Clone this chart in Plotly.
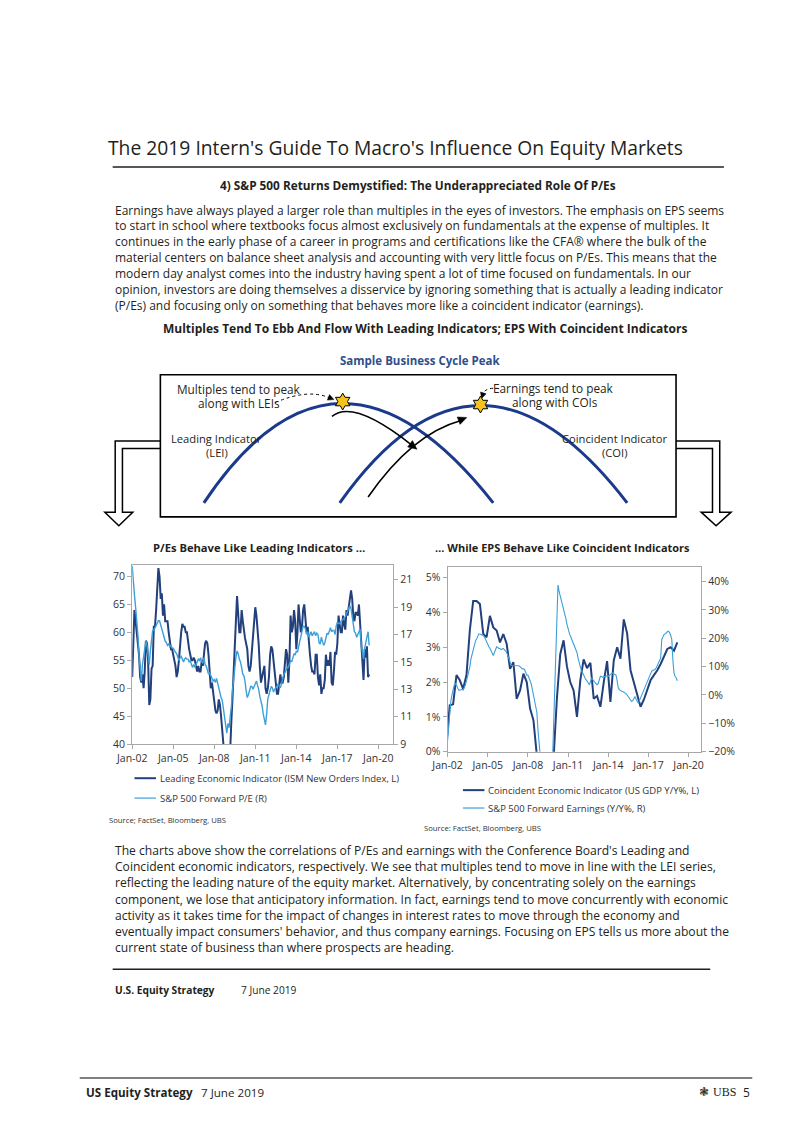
import math
import pandas as pd
import plotly.graph_objects as go

W, H = 802, 1133

# ---------------- DATA ----------------
# ISM New Orders (monthly, Jan-2002 .. May-2019), left chart, left axis
lei = [52, 60, 64, 62, 60, 58, 56, 52, 51, 52.5, 50, 53,
       58.5, 58, 55, 47, 48, 53.5, 54, 61, 61, 64, 69, 71.5,
       70, 66, 67, 63, 65, 62, 62, 62, 60, 58, 57, 57,
       56, 55, 54, 52, 53, 55, 58, 60, 61.5, 61, 61, 60,
       60, 58, 57, 56, 55, 55, 55.5, 55, 54, 53, 54, 53,
       53, 55, 54, 56, 58, 58.5, 58, 56, 52, 50, 51, 49,
       47, 46, 45.5, 46, 48, 47, 45, 43, 40, 34, 27, 23,
       30, 34, 40, 44, 48, 52, 56, 62, 66.5, 63, 60, 60,
       64, 62, 60, 59, 58, 57, 54, 53, 54, 57, 60, 62,
       64.5, 63, 61, 58, 54, 51, 52, 53, 54, 50, 49, 50,
       52, 56, 57.5, 57, 55, 53, 50, 49, 49, 51, 52.5, 51,
       51, 52, 54, 57, 56, 51, 55, 63, 60, 61, 64, 62,
       57, 60, 65, 62, 60, 61, 64, 65, 62, 60, 61, 58,
       56, 54, 53, 53, 52.5, 56, 56, 52, 50.5, 52.5, 49, 50,
       50, 51.5, 56, 54, 55, 54, 56.5, 51, 50.5, 53, 56.5, 56,
       58, 63, 61, 60, 60, 63, 61.5, 60.5, 64, 63, 64.5, 66,
       67.5, 66, 63, 62, 63.5, 63.5, 63, 65, 62, 59, 56, 51.5,
       57, 55.5, 57.5, 52, 52.5]

# S&P 500 forward P/E (monthly, Jan-2002 .. May-2019), left chart, right axis
pe = [22.0, 20.5, 19.9, 19.0, 18.2, 17.0, 15.5, 14.2, 13.6, 14.8, 15.5, 15.8,
      16.5, 16.2, 15.5, 14.8, 15.8, 16.6, 17.3, 17.3, 17.5, 17.7, 17.8, 18.0,
      18.0, 17.7, 17.4, 17.0, 16.7, 16.5, 16.4, 16.2, 16.3, 16.1, 16.2, 16.0,
      16.0, 15.8, 15.7, 15.6, 15.3, 15.1, 15.3, 15.4, 15.2, 15.0, 15.2, 15.3,
      15.2, 15.2, 15.0, 15.1, 14.8, 14.6, 14.8, 14.6, 14.8, 15.0, 15.2, 15.1,
      15.3, 15.0, 14.9, 15.3, 14.8, 14.7, 14.3, 14.1, 14.2, 14.0, 13.8, 13.6,
      13.7, 13.5, 13.8, 13.4, 13.0, 12.7, 12.4, 12.2, 11.5, 10.8, 10.2, 9.8,
      10.5, 10.2, 11.0, 11.7, 12.9, 13.8, 14.5, 15.3, 15.8, 15.6, 15.2, 15.0,
      14.6, 14.1, 14.0, 13.6, 12.9, 12.4, 12.6, 13.0, 13.2, 13.2, 13.0, 13.2,
      13.4, 13.6, 13.3, 13.0, 12.5, 12.2, 11.8, 11.2, 10.7, 10.4, 11.2, 12.3,
      12.6, 13.0, 13.2, 13.1, 12.8, 13.0, 13.1, 13.2, 13.4, 13.2, 13.1, 13.4,
      13.8, 14.1, 14.2, 14.4, 14.6, 14.6, 14.8, 15.1, 15.0, 15.3, 15.6, 15.5,
      15.8, 15.7, 16.2, 16.5, 16.8, 17.3, 17.6, 17.6, 17.4, 17.0, 17.2, 16.8,
      17.0, 17.2, 16.9, 17.1, 17.2, 16.9, 17.1, 17.0, 16.4, 16.3, 16.8, 16.5,
      16.2, 16.4, 16.8, 17.1, 17.0, 17.3, 17.5, 17.2, 17.3, 17.3, 17.0, 17.6,
      17.9, 17.8, 17.8, 17.9, 18.0, 18.1, 18.2, 18.3, 18.5, 18.7, 18.9, 19.1,
      18.9, 18.3, 17.6, 17.2, 17.1, 16.8, 17.0, 17.3, 17.4, 16.2, 15.6, 15.2,
      16.0, 16.6, 16.8, 17.2, 16.2]

# US real GDP Y/Y % (quarterly, Dec-2001 .. Mar-2019), right chart, left axis
gdp = [0.2, 1.33, 1.36, 2.2, 2.05, 1.8, 2.2, 3.5,
       4.33, 4.33, 4.24, 3.38, 3.29, 3.9, 3.57, 3.48,
       3.14, 3.38, 3.1, 2.38, 2.57, 1.52, 1.76, 2.24,
       2.0, 1.24, 0.9, -0.1, -2.8, -3.3, -3.9, -3.0,
       -0.2, 1.5, 2.8, 3.2, 2.45, 2.0, 1.76, 1.0,
       2.05, 2.65, 2.4, 2.55, 1.52, 1.6, 1.29, 2.0,
       2.6, 1.43, 2.62, 3.0, 2.67, 3.8, 3.4, 2.34,
       2.0, 1.6, 1.29, 1.5, 1.76, 2.05, 2.2, 2.34,
       2.52, 2.75, 2.95, 3.0, 2.9, 3.14]

# S&P 500 forward earnings Y/Y % (monthly, Jan-2002 .. Mar-2019), right chart, right axis
eps = [-16, -10, -5, -2, 0, 2, 3.5, 4, 3.5, 2.5, 1.7, 1.7,
       2, 2, 1.7, 2.5, 3.5, 5, 6.5, 8.1, 10, 12.7, 14.5, 16.5,
       18, 19, 19.7, 20.5, 21.5, 21.5, 21.3, 21, 21, 20.5, 19.5, 18.5,
       18, 17, 16.5, 15.7, 15, 13.9, 15, 16, 17, 16.8, 16.4, 16.4,
       16, 16.2, 16.4, 16, 15.5, 15, 14, 12.7, 11.5, 10.5, 10.4, 10.4,
       10.4, 10.3, 10.4, 10.5, 10.3, 10, 9.6, 9.2, 9.2, 9.0, 8.0, 7.0,
       7, 6.2, 5, 3.9, 2, 0, -2.5, -4, -6, -12, -20, -26,
       -30, -33, -35, -35, -34, -32, -30, -29, -28, -27, -24, -12,
       5, 20, 32, 38.8, 36.5, 35, 33, 32, 30.7, 29, 27, 25,
       23, 22, 21, 20, 19, 18, 17.5, 16.6, 15, 13, 11.3, 10,
       8.5, 7.8, 7, 6, 5.4, 5, 4.5, 3.6, 4.5, 6, 5.5, 4.8,
       4.5, 4, 3.6, 4, 5, 6.6, 6.5, 6.2, 6.6, 6.4, 6.6, 6.8,
       6.6, 6.8, 7.2, 7.5, 7.8, 7.5, 7.2, 7.0, 5, 2.5, 1.9, 1.5,
       1.3, 1.2, 1.0, 0.7, 0.5, 0, -0.5, -1.1, -1.8, -2.3, -2, -1,
       -0.5, -1.5, -2.5, -2.9, -2, -1, 0.1, 1, 1.8, 2.5, 3.5, 5,
       6, 7, 8, 8.4, 8.6, 8.8, 9, 9.5, 10.5, 11.3, 12, 13,
       19.6, 20.5, 21.3, 21.5, 22, 22.3, 22.5, 22, 21, 19.6, 12, 7.8,
       6.5, 6, 5.0]

lei_dates = pd.date_range("2002-01-01", periods=len(lei), freq="MS")
pe_dates = pd.date_range("2002-01-01", periods=len(pe), freq="MS")
gdp_dates = pd.date_range("2001-12-01", periods=len(gdp), freq="QS-DEC")
eps_dates = pd.date_range("2002-01-01", periods=len(eps), freq="MS")

left_title = "P/Es Behave Like Leading Indicators \u2026"
right_title = "\u2026 While EPS Behave Like Coincident Indicators"
left_names = ["Leading Economic Indicator (ISM New Orders Index, L)", "S&P 500 Forward P/E (R)"]
right_names = ["Coincident Economic Indicator (US GDP Y/Y%, L)", "S&P 500 Forward Earnings (Y/Y%, R)"]

DARK = "#22407c"
LIGHT = "#3c9fd8"
AXC = "#a8a8a8"
TXT = "#231f20"
FONT = "Open Sans"

para1 = [
    "Earnings have always played a larger role than multiples in the eyes of investors. The emphasis on EPS seems",
    "to start in school where textbooks focus almost exclusively on fundamentals at the expense of multiples. It",
    "continues in the early phase of a career in programs and certifications like the CFA\u00ae where the bulk of the",
    "material centers on balance sheet analysis and accounting with very little focus on P/Es. This means that the",
    "modern day analyst comes into the industry having spent a lot of time focused on fundamentals. In our",
    "opinion, investors are doing themselves a disservice by ignoring something that is actually a leading indicator",
    "(P/Es) and focusing only on something that behaves more like a coincident indicator (earnings).",
]
para2 = [
    "The charts above show the correlations of P/Es and earnings with the Conference Board's Leading and",
    "Coincident economic indicators, respectively. We see that multiples tend to move in line with the LEI series,",
    "reflecting the leading nature of the equity market. Alternatively, by concentrating solely on the earnings",
    "component, we lose that anticipatory information. In fact, earnings tend to move concurrently with economic",
    "activity as it takes time for the impact of changes in interest rates to move through the economy and",
    "eventually impact consumers' behavior, and thus company earnings. Focusing on EPS tells us more about the",
    "current state of business than where prospects are heading.",
]

fig = go.Figure()

# ---------------- charts ----------------
fig.add_trace(go.Scatter(x=lei_dates, y=lei, mode="lines", line=dict(color=DARK, width=2),
                         xaxis="x", yaxis="y", showlegend=False, name=left_names[0]))
fig.add_trace(go.Scatter(x=pe_dates, y=pe, mode="lines", line=dict(color=LIGHT, width=1.4),
                         xaxis="x", yaxis="y2", showlegend=False, name=left_names[1]))
fig.add_trace(go.Scatter(x=gdp_dates, y=gdp, mode="lines", line=dict(color=DARK, width=2),
                         xaxis="x2", yaxis="y3", showlegend=False, name=right_names[0]))
fig.add_trace(go.Scatter(x=eps_dates, y=eps, mode="lines", line=dict(color=LIGHT, width=1.1),
                         xaxis="x2", yaxis="y4", showlegend=False, name=right_names[1]))


def px(x):
    return x / W


def py(y):
    return 1 - y / H


axis_common = dict(showline=True, linecolor=AXC, linewidth=1, ticks="outside", ticklen=4,
                   tickcolor=AXC, showgrid=False, zeroline=False,
                   tickfont=dict(family=FONT, size=10.5, color="#333333"))

fig.update_layout(
    xaxis=dict(domain=[px(110.7), px(377.7)], anchor="y", type="date",
               range=["2002-01-01", "2021-02-01"], tick0="2002-01-01", dtick="M36",
               tickformat="%b-%y", mirror=True, **axis_common),
    yaxis=dict(domain=[py(740.7), py(560)], anchor="x", range=[40, 72.14], tick0=40, dtick=5,
               **axis_common),
    yaxis2=dict(overlaying="y", anchor="x", side="right", range=[9, 22.1], tick0=9, dtick=2,
                **axis_common),
    xaxis2=dict(domain=[px(433.3), px(692.7)], anchor="y3", type="date",
                range=["2002-01-01", "2020-12-10"], tick0="2002-01-01", dtick="M36",
                tickformat="%b-%y", mirror=True, **axis_common),
    yaxis3=dict(domain=[py(748.3), py(562.3)], anchor="x2", range=[0, 5.31], tick0=0, dtick=1,
                ticksuffix="%", **axis_common),
    yaxis4=dict(overlaying="y3", anchor="x2", side="right", range=[-20, 45.2], tick0=-20, dtick=10,
                ticksuffix="%", **axis_common),
)

# ---------------- diagram & page graphics (page pixels -> paper) ----------------
shapes = []


def conv(d):
    """Convert an SVG path written in page pixels into paper coordinates."""
    out, nums = [], []
    for tok in d.replace(",", " ").split():
        if tok.isalpha():
            out.append(tok)
        else:
            nums.append(float(tok))
            if len(nums) == 2:
                out.append(f"{px(nums[0]):.5f},{py(nums[1]):.5f}")
                nums = []
    return " ".join(out)


def line(x0, y0, x1, y1, color="black", width=1.5, dash=None):
    shapes.append(dict(type="line", xref="paper", yref="paper", x0=px(x0), y0=py(y0),
                       x1=px(x1), y1=py(y1), line=dict(color=color, width=width, dash=dash),
                       layer="above"))


def path(d, color="black", width=1.5, fill=None, dash=None):
    s = dict(type="path", xref="paper", yref="paper", path=conv(d),
             line=dict(color=color, width=width, dash=dash), layer="above")
    if fill:
        s["fillcolor"] = fill
    shapes.append(s)


def arrowhead(tipx, tipy, dx, dy, length=9, half=4):
    n = math.hypot(dx, dy)
    ux, uy = dx / n, dy / n
    bx, by = tipx - ux * length, tipy - uy * length
    p1 = (bx - uy * half, by + ux * half)
    p2 = (bx + uy * half, by - ux * half)
    path(f"M {tipx} {tipy} L {p1[0]:.2f} {p1[1]:.2f} L {p2[0]:.2f} {p2[1]:.2f} Z",
         width=0.5, fill="black")


def star(cx, cy, r=8.5):
    pts = []
    for k in range(12):
        ang = math.radians(-90 + 30 * k)
        rad = r if k % 2 == 0 else r / math.sqrt(3)
        pts.append((cx + rad * math.cos(ang), cy + rad * math.sin(ang)))
    d = "M " + " L ".join(f"{x:.2f} {y:.2f}" for x, y in pts) + " Z"
    path(d, color="black", width=1, fill="#f6c21c")


# title rule
line(90.7, 160, 716, 160, color=TXT, width=1.5)
# box
path("M 139.5 369 L 667 369 L 667 512 L 139.5 512 Z", width=1.6)
# hollow down arrows
path("M 139.5 435.7 L 93.3 435.7 L 93.3 507.3 L 82.7 507.3 L 97 521 L 111.3 507.3 "
     "L 100.7 507.3 L 100.7 443.3 L 139.5 443.3", width=1.5)
path("M 667 435.7 L 711.7 435.7 L 711.7 507.3 L 723.3 507.3 L 708 521 L 692.7 507.3 "
     "L 704.3 507.3 L 704.3 443.3 L 667 443.3", width=1.5)
# business cycle curves
path("M 184 498 Q 320 298 480 498", color="#1c3a8c", width=3)
path("M 323 498 Q 464 302 617 498", color="#1c3a8c", width=3)
# black curved arrows
path("M 315 411 C 332 397, 365 415, 397 440", width=1.6)
arrowhead(402, 444, 32, 25)
path("M 352 492 C 378 455, 410 425, 447 415", width=1.6)
arrowhead(453, 412, 36, -14)
# dotted pointer arrows
path("M 257 397 Q 290 383 312 392", width=1, dash="dot")
arrowhead(317, 394, 5, 2, length=6, half=3)
path("M 486 383 Q 472 381 469 389", width=1, dash="dot")
arrowhead(468, 393, -1, 3, length=6, half=3)
# stars
star(326, 396)
star(467, 399)
# legend samples
line(113, 775, 135, 775, color=DARK, width=2)
line(113, 795, 135, 795, color=LIGHT, width=1.2)
line(449, 787, 471, 787, color=DARK, width=2)
line(449, 805, 471, 805, color=LIGHT, width=1.2)
# bottom rules
line(90.7, 967.3, 702, 967.3, color=TXT, width=1.5)
line(57, 1076.7, 745, 1076.7, color="#555555", width=1.5)

fig.update_layout(shapes=shapes)

# ---------------- text ----------------
ann = []


def txt(x, y, s, size=11.5, bold=False, color=TXT, anchor="left", family=FONT):
    if bold:
        s = f"<b>{s}</b>"
    ann.append(dict(x=px(x), y=py(y), xref="paper", yref="paper", text=s, showarrow=False,
                    xanchor=anchor, yanchor="middle",
                    font=dict(family=family, size=size, color=color)))


txt(84, 140, "The 2019 Intern's Guide To Macro's Influence On Equity Markets", size=19.3)
txt(403, 178, "4) S&P 500 Returns Demystified: The Underappreciated Role Of P/Es", size=11.8, bold=True,
    anchor="center")
for i, s in enumerate(para1):
    txt(91, 203.3 + i * 15.95, s, size=12.0)
txt(410, 322, "Multiples Tend To Ebb And Flow With Leading Indicators; EPS With Coincident Indicators",
    size=12, bold=True, anchor="center")
txt(405, 355, "Sample Business Cycle Peak", size=11.5, bold=True, color="#2f4f8c", anchor="center")
txt(220, 383, "Multiples tend to peak", size=11.8, anchor="center")
txt(220, 397, "along with LEIs", size=11.8, anchor="center")
txt(542, 382, "Earnings tend to peak", size=11.8, anchor="center")
txt(543, 396, "along with COIs", size=11.8, anchor="center")
txt(197, 433, "Leading Indicator", size=11.2, anchor="center")
txt(197, 447, "(LEI)", size=11.2, anchor="center")
txt(604, 433, "Coincident Indicator", size=11.2, anchor="center")
txt(604, 447, "(COI)", size=11.2, anchor="center")

txt(240, 543, left_title, size=11.2, bold=True, anchor="center")
txt(551, 543, right_title, size=11, bold=True, anchor="center")
txt(137, 775, left_names[0], size=9.5, color="#333333")
txt(137, 795, left_names[1], size=9.5, color="#333333")
txt(473, 787, right_names[0], size=9.5, color="#333333")
txt(473, 805, right_names[1], size=9.5, color="#333333")
txt(85, 817, "Source; FactSet, Bloomberg, UBS", size=7.7, color="#333333")
txt(407, 825, "Source: FactSet, Bloomberg, UBS", size=7.7, color="#333333")

for i, s in enumerate(para2):
    txt(91, 848 + i * 16.2, s, size=12.1)

txt(90.7, 987.7, "U.S. Equity Strategy", size=10.2, bold=True)
txt(220, 987.7, "7 June 2019", size=10.2)
txt(61.5, 1091, "US Equity Strategy", size=11.6, bold=True)
txt(179, 1091, "7 June 2019", size=11.6)
txt(696, 1091, "\u2743", size=12, anchor="center", family="DejaVu Sans")
txt(703, 1091, "UBS", size=12, family="Liberation Serif")
txt(745, 1091, "5", size=12, anchor="right")

fig.update_layout(annotations=ann)

fig.update_layout(width=W, height=H, autosize=False,
                  margin=dict(l=0, r=0, t=0, b=0),
                  paper_bgcolor="white", plot_bgcolor="white",
                  font=dict(family=FONT, color=TXT))

fig.write_html("out.html")
